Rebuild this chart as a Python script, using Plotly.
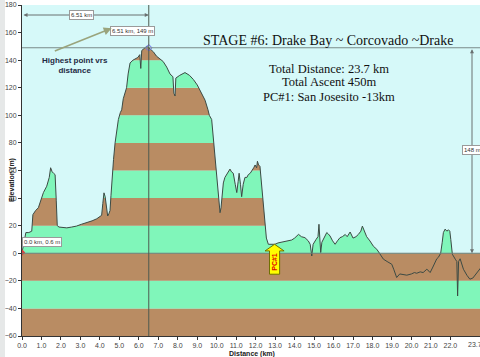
import plotly.graph_objects as go

# ---- data ----
distance_km = [
    0.00, 0.10, 0.20, 0.35, 0.50, 0.56, 0.70, 0.84, 0.95, 1.10, 1.27, 1.40, 1.47, 1.55, 1.62, 1.70,
    1.76, 1.81, 1.90, 2.10, 2.30, 2.55, 2.80, 3.05, 3.32, 3.60, 3.84, 4.00, 4.09, 4.15, 4.21, 4.27,
    4.33, 4.40, 4.47, 4.52, 4.57, 4.62, 4.70, 4.78, 4.86, 4.95, 5.05, 5.12, 5.20, 5.30, 5.37, 5.45,
    5.55, 5.70, 5.80, 5.95, 6.05, 6.10, 6.15, 6.30, 6.40, 6.51, 6.60, 6.75, 6.90, 7.09, 7.25, 7.43,
    7.60, 7.75, 7.80, 7.86, 7.90, 8.10, 8.37, 8.60, 8.80, 9.00, 9.14, 9.30, 9.40, 9.55, 9.62, 9.74,
    9.82, 9.91, 10.00, 10.08, 10.14, 10.17, 10.22, 10.28, 10.34, 10.42, 10.50, 10.60, 10.68, 10.76,
    10.85, 10.95, 11.03, 11.10, 11.15, 11.22, 11.28, 11.36, 11.45, 11.55, 11.62, 11.72, 11.80, 11.90,
    11.97, 12.05, 12.09, 12.15, 12.22, 12.31, 12.40, 12.48, 12.55, 12.65, 12.80, 12.99, 13.15, 13.34,
    13.60, 13.85, 14.00, 14.20, 14.35, 14.53, 14.70, 14.80, 14.88, 14.95, 15.10, 15.20, 15.25, 15.30,
    15.34, 15.40, 15.48, 15.60, 15.65, 15.73, 15.82, 15.95, 16.08, 16.20, 16.33, 16.45, 16.60, 16.70,
    16.85, 17.00, 17.15, 17.27, 17.40, 17.48, 17.55, 17.60, 17.70, 17.87, 18.05, 18.22, 18.40, 18.56,
    18.75, 18.99, 19.10, 19.24, 19.40, 19.60, 19.76, 20.00, 20.15, 20.27, 20.45, 20.60, 20.79, 20.90,
    20.96, 21.10, 21.20, 21.30, 21.38, 21.50, 21.58, 21.64, 21.73, 21.82, 21.90, 21.97, 22.02, 22.10,
    22.25, 22.33, 22.37, 22.42, 22.50, 22.67, 22.85, 23.00, 23.15, 23.27, 23.40, 23.53, 23.70,
]
elevation_m = [
    0.6, 8, 15, 15, 16, 28, 31, 33, 38, 44, 48.6, 55, 62, 59, 58, 57,
    38, 20, 19, 18.5, 18.4, 19, 19.7, 21, 22, 23.5, 25, 26.5, 27.5, 36, 43.8, 41,
    34, 27, 29, 31, 42, 55, 68, 80, 88, 97, 102, 104, 112, 118, 120, 130,
    138, 140, 141, 142, 144, 134, 147, 149, 150, 149, 148, 146, 143, 141, 139, 135,
    130, 128, 116, 114, 127, 129, 131, 129, 126, 122, 118.5, 114, 111, 104, 100, 97,
    85, 73, 60, 48.6, 35, 29.4, 33, 45, 51, 55, 57, 60, 61, 59,
    58, 50, 44, 52, 58, 50, 41, 50, 55, 55, 57, 58, 59.5, 62,
    64, 62, 66.7, 64, 63, 48.6, 32, 19, 11, 6.5, 6.5, 6.5, 7.5, 8.2,
    9, 9.6, 11, 13.7, 12, 11.3, 9, 6.5, -2, 6.5, 10, 12, 21, 9,
    0.5, 8, 10, 13, 15, 14, 12.5, 9, 6.5, 9, 11.3, 12, 13.6, 12,
    15.4, 11, 12, 13.6, 16, 19.7, 17, 15.5, 12, 8.9, 5, 2.9, -1, -4.3,
    -6, -8, -12, -17.6, -15, -15.5, -15.9, -15, -14, -14.5, -13.5, -14, -11.6, -13,
    -14, -10, -6.7, -4, -3, 0, 8, 15, 17.5, 16, 17, 16, 10, -0.7,
    -4.3, -6, -31, -6, -4, -11.6, -16, -18.8, -18, -16, -13, -11.6, -8,
]
x_tick_values = list(range(0, 23))
x_tick_labels = [f"{v:.1f}" for v in x_tick_values]
last_km_label = "23.7"
y_tick_values = list(range(-60, 181, 20))

peak_km, peak_m = 6.51, 149
start_km, start_m = 0.0, 0.6
climb_m = 148
pc1_km = 12.97

title_text = "STAGE #6: Drake Bay ~ Corcovado ~Drake"
info_lines = ["Total Distance: 23.7 km", "Total Ascent 450m", "PC#1: San Josesito -13km"]

# ---- styling ----
GREEN = "#80F6BA"
BROWN = "#B98C63"
SKY = "#D6F9F9"
W, H = 480, 357
ML, MR, MT, MB = 22, 0, 5, 21
PW, PH = W - ML - MR, H - MT - MB
XMAX = 23.52
YMIN, YMAX = -60, 180


def px_to_km(px):
    return (px - ML) / PW * XMAX


def py_to_m(py):
    return YMAX - (py - MT) / PH * (YMAX - YMIN)


fig = go.Figure()

# cover the bands above the profile (and above zero) with sky colour
top_edge = [max(e, 0) for e in elevation_m]
fig.add_trace(go.Scatter(x=distance_km, y=top_edge, mode="lines",
                         line=dict(width=0), hoverinfo="skip", showlegend=False))
fig.add_trace(go.Scatter(x=distance_km, y=[YMAX] * len(distance_km), mode="lines",
                         line=dict(width=0), fill="tonexty", fillcolor=SKY,
                         hoverinfo="skip", showlegend=False))
# profile line
fig.add_trace(go.Scatter(x=distance_km, y=elevation_m, mode="lines",
                         line=dict(color="#3c4a44", width=1), showlegend=False))
# markers at start and peak
fig.add_trace(go.Scatter(x=[start_km], y=[start_m], mode="markers",
                         marker=dict(color="#e04040", size=5, symbol="diamond"), showlegend=False))
fig.add_trace(go.Scatter(x=[peak_km], y=[peak_m], mode="markers",
                         marker=dict(color="#6a6af0", size=5, symbol="diamond-open"), showlegend=False))

shapes = []
for lo in range(YMIN, YMAX, 20):
    color = GREEN if (lo // 20) % 2 == 0 else BROWN
    shapes.append(dict(type="rect", xref="paper", yref="y", x0=0, x1=1, y0=lo, y1=lo + 20,
                       fillcolor=color, line=dict(width=0), layer="below"))
# zero line, peak level line, peak vertical
shapes.append(dict(type="line", xref="paper", yref="y", x0=0, x1=1, y0=0, y1=0,
                   line=dict(color="#6e7a74", width=1)))
shapes.append(dict(type="line", xref="paper", yref="y", x0=0, x1=1, y0=peak_m, y1=peak_m,
                   line=dict(color="#7a8a88", width=1)))
shapes.append(dict(type="line", xref="x", yref="paper", x0=peak_km, x1=peak_km, y0=0, y1=1,
                   line=dict(color="#4e5a50", width=1)))
# PC#1 yellow arrow
hw, sw = 0.49, 0.26
path = (f"M {pc1_km - sw},-15.2 L {pc1_km - sw},1.7 L {pc1_km - hw},1.7 L {pc1_km},6.5 "
        f"L {pc1_km + hw},1.7 L {pc1_km + sw},1.7 L {pc1_km + sw},-15.2 Z")
shapes.append(dict(type="path", xref="x", yref="y", path=path, fillcolor="#FFFF00",
                   line=dict(color="#707000", width=1)))
# left grey strip of the frame
shapes.append(dict(type="rect", xref="paper", yref="paper", x0=-ML / PW, x1=-17 / PW,
                   y0=-MB / PH, y1=1 + MT / PH,
                   fillcolor="#e6e8e8", line=dict(width=0)))

ann = []
box = dict(bgcolor="white", bordercolor="#9a9a9a", borderwidth=1, borderpad=1,
           font=dict(family="Arial", size=6, color="#333"), showarrow=False)
# distance dimension
ann.append(dict(x=peak_km, y=py_to_m(15), ax=0, ay=py_to_m(15), xref="x", yref="y", axref="x",
                ayref="y", text="", showarrow=True, arrowhead=2, startarrowhead=2,
                arrowside="end+start", arrowsize=0.8, arrowwidth=1, arrowcolor="#6a7070"))
ann.append(dict(x=px_to_km(81), y=py_to_m(15.3), xref="x", yref="y", text=f"{peak_km:.2f} km", **box))
ann.append(dict(x=px_to_km(132), y=py_to_m(30.5), xref="x", yref="y",
                text=f"{peak_km:.2f} km, {peak_m} m", **box))
ann.append(dict(x=px_to_km(42), y=py_to_m(242), xref="x", yref="y",
                text=f"{start_km:.1f} km, {start_m} m", **box))
# height dimension
xdim = px_to_km(472)
ann.append(dict(x=xdim, y=0, ax=xdim, ay=peak_m, xref="x", yref="y", axref="x", ayref="y",
                text="", showarrow=True, arrowhead=2, startarrowhead=2, arrowside="end+start",
                arrowsize=0.8, arrowwidth=1, arrowcolor="#6a7070"))
ann.append(dict(x=xdim, y=py_to_m(150), xref="x", yref="y", text=f"{climb_m} m", **box))
# highest point callout
ann.append(dict(x=px_to_km(111.7), y=py_to_m(28.3), ax=px_to_km(53.3), ay=py_to_m(51.7),
                xref="x", yref="y", axref="x", ayref="y",
                text="", showarrow=True, arrowhead=2, arrowsize=1, arrowwidth=1.6,
                arrowcolor="#9aa47c"))
ann.append(dict(x=px_to_km(75), y=py_to_m(65.5), xref="x", yref="y",
                text="<b>Highest point vrs<br>distance</b>",
                showarrow=False, align="center",
                font=dict(family="Arial", size=8, color="#1f2a44")))
# titles
ann.append(dict(x=px_to_km(328), y=py_to_m(40), xref="x", yref="y", text=title_text,
                showarrow=False, font=dict(family="Liberation Serif", size=14, color="#111")))
for ypx, line in zip([68.5, 82, 97], info_lines):
    ann.append(dict(x=px_to_km(329), y=py_to_m(ypx), xref="x", yref="y",
                    text=line, showarrow=False,
                    font=dict(family="Liberation Serif", size=12.5, color="#111")))
# PC#1 label
ann.append(dict(x=pc1_km, y=-6.5, xref="x", yref="y", text="<b>PC#1</b>", textangle=-90,
                showarrow=False, font=dict(family="Arial", size=7, color="#e00000")))
# axis titles
ann.append(dict(x=-16 / PW, y=(336 - 180) / PH, xref="paper", yref="paper",
                text="<b>Elevation (m)</b>", textangle=-90, showarrow=False,
                font=dict(family="Arial", size=7, color="#222")))
ann.append(dict(x=(252 - ML) / PW, y=-(354 - 336) / PH, xref="paper", yanchor="middle",
                yref="paper", text="<b>Distance (km)</b>", showarrow=False,
                font=dict(family="Arial", size=7, color="#222")))
# last distance label (partly cut by the frame)
ann.append(dict(x=23.7 / XMAX, y=-(344.5 - 336) / PH, xref="paper", yref="paper", yanchor="middle",
                text=last_km_label, showarrow=False,
                font=dict(family="Arial", size=7, color="#444")))

fig.update_layout(
    width=W, height=H,
    margin=dict(l=ML, r=MR, t=MT, b=MB, autoexpand=False),
    paper_bgcolor="white", plot_bgcolor=SKY,
    showlegend=False,
    shapes=shapes, annotations=ann,
    xaxis=dict(range=[0, XMAX], tickvals=x_tick_values, ticktext=x_tick_labels,
               automargin=False,
               showgrid=False, zeroline=False, showline=True, linecolor="#333", linewidth=1,
               ticks="outside", ticklen=3, tickcolor="#333",
               tickfont=dict(family="Arial", size=7, color="#444")),
    yaxis=dict(range=[YMIN, YMAX], tickvals=y_tick_values, automargin=False,
               showgrid=False, zeroline=False, showline=True, linecolor="#333", linewidth=1,
               ticks="outside", ticklen=3, tickcolor="#333",
               tickfont=dict(family="Arial", size=7, color="#444")),
)

fig.write_html("out.html", config={"displayModeBar": False},
               post_script="document.body.style.margin='0';document.body.style.overflow='hidden';")
